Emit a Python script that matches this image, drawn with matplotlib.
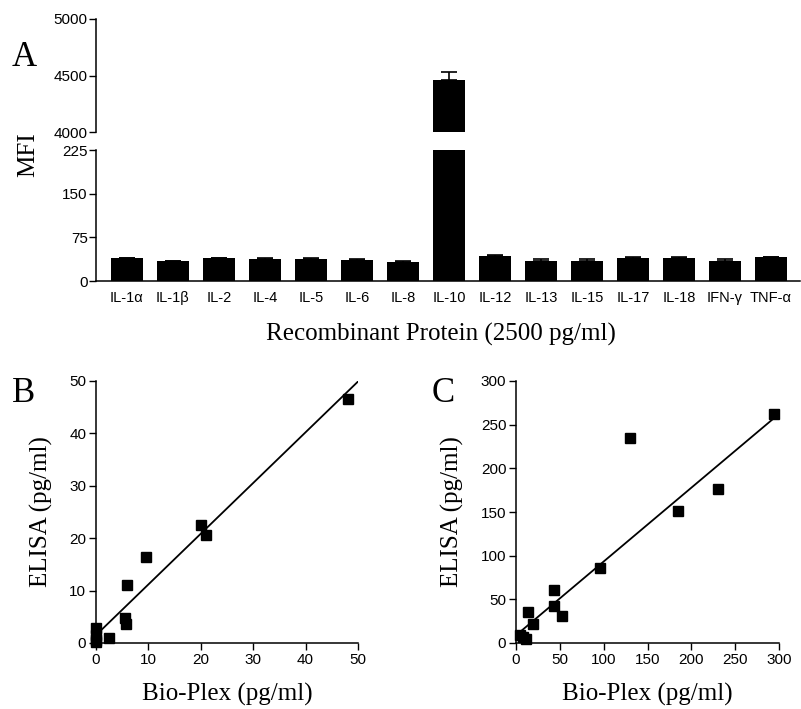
import numpy as np
import matplotlib
matplotlib.use("Agg")
import matplotlib.pyplot as plt

plt.rcParams['font.family'] = ['Liberation Sans', 'DejaVu Sans']

# Panel A: MFI for each recombinant protein
proteins = ["IL-1\u03b1", "IL-1\u03b2", "IL-2", "IL-4", "IL-5", "IL-6", "IL-8", "IL-10",
            "IL-12", "IL-13", "IL-15", "IL-17", "IL-18", "IFN-\u03b3", "TNF-\u03b1"]
mfi = [39, 34, 39, 38, 38, 36, 33, 4460, 43, 34, 34, 40, 40, 34, 41]
mfi_err = [1, 1, 1, 1, 1, 1, 1, 70, 1, 3, 3, 1, 1, 4, 1]

# Panel B: Bio-Plex vs ELISA (pg/ml)
b_bioplex = [48.0, 20.0, 20.9, 9.5, 6.0, 5.6, 5.7, 2.4, 0, 0, 0, 0]
b_elisa = [46.5, 22.6, 20.7, 16.4, 11.0, 4.8, 3.6, 0.9, 2.8, 1.6, 0.6, 0.1]
b_fit = (0.968, 1.5)
b_fit_x = [0, 50]

# Panel C: Bio-Plex vs ELISA (pg/ml)
c_bioplex = [294.7, 129.7, 230.8, 184.4, 95.5, 43.0, 43.7, 52.1, 14.1, 19.4, 4.9, 8.0, 11.5]
c_elisa = [262.2, 234.4, 176.3, 150.8, 85.5, 61.0, 42.7, 31.3, 35.8, 21.4, 9.2, 6.5, 5.0]
c_fit = (0.845, 8.8)
c_fit_x = [3, 297]

serif = ['Liberation Serif', 'DejaVu Serif']
W, H = 801, 709
fig = plt.figure(figsize=(W / 100, H / 100), dpi=100)


def box(x0, y0, x1, y1):
    # pixel box (top-left origin) -> figure fraction rect
    return [x0 / W, 1 - y1 / H, (x1 - x0) / W, (y1 - y0) / H]


ax_top = fig.add_axes(box(96, 19, 800, 132))
ax_bot = fig.add_axes(box(96, 150, 800, 281))

x = np.arange(len(proteins))
zeros = np.zeros(len(proteins))
for ax in (ax_top, ax_bot):
    ax.bar(x, mfi, width=0.7, color='black', yerr=[zeros, mfi_err],
           error_kw=dict(ecolor='black', elinewidth=1.2, capsize=6, capthick=1.2))
    ax.set_xlim(-0.67, 14.63)
    ax.spines['top'].set_visible(False)
    ax.spines['right'].set_visible(False)
    ax.spines['left'].set_linewidth(1.1)
    ax.tick_params(axis='y', direction='out', length=5, width=1, labelsize=11, pad=1)

ax_top.set_ylim(4000, 5000)
ax_top.set_yticks([4000, 4500, 5000])
ax_top.spines['bottom'].set_visible(False)
ax_top.set_xticks([])

ax_bot.set_ylim(0, 225)
ax_bot.set_yticks([0, 75, 150, 225])
ax_bot.spines['bottom'].set_linewidth(1.1)
ax_bot.set_xticks(x)
ax_bot.set_xticklabels(proteins, fontsize=10.5)
ax_bot.tick_params(axis='x', length=0, pad=7)

fig.text(441 / W, 1 - 334 / H, "Recombinant Protein (2500 pg/ml)",
         family=serif, fontsize=18, ha='center', va='center')
fig.text(28 / W, 1 - 155 / H, "MFI", family=serif, fontsize=18, rotation=90,
         ha='center', va='center')
fig.text(24 / W, 1 - 57 / H, "A", family=serif, fontsize=25, ha='center', va='center')

# Panels B and C
ax_b = fig.add_axes(box(96, 381, 358, 643))
ax_c = fig.add_axes(box(516, 381, 779, 643))

for ax, bx, by, fit, fx, lim, step in [
        (ax_b, b_bioplex, b_elisa, b_fit, b_fit_x, 50, 10),
        (ax_c, c_bioplex, c_elisa, c_fit, c_fit_x, 300, 50)]:
    fx = np.array(fx)
    ax.plot(fx, fit[0] * fx + fit[1], color='black', lw=1.3)
    ax.plot(bx, by, 's', color='black', ms=7.5, clip_on=False)
    ax.set_xlim(0, lim)
    ax.set_ylim(0, lim)
    ax.set_xticks(np.arange(0, lim + 1, step))
    ax.set_yticks(np.arange(0, lim + 1, step))
    ax.spines['top'].set_visible(False)
    ax.spines['right'].set_visible(False)
    ax.spines['left'].set_linewidth(1.1)
    ax.spines['bottom'].set_linewidth(1.1)
    ax.tick_params(direction='out', length=5, width=1, labelsize=11, pad=2)
    ax.set_xlabel("Bio-Plex (pg/ml)", family=serif, fontsize=18, labelpad=12)
    ax.set_ylabel("ELISA (pg/ml)", family=serif, fontsize=18, labelpad=12)

fig.text(24 / W, 1 - 393 / H, "B", family=serif, fontsize=25, ha='center', va='center')
fig.text(443 / W, 1 - 393 / H, "C", family=serif, fontsize=25, ha='center', va='center')

fig.savefig("out.png", dpi=100)
